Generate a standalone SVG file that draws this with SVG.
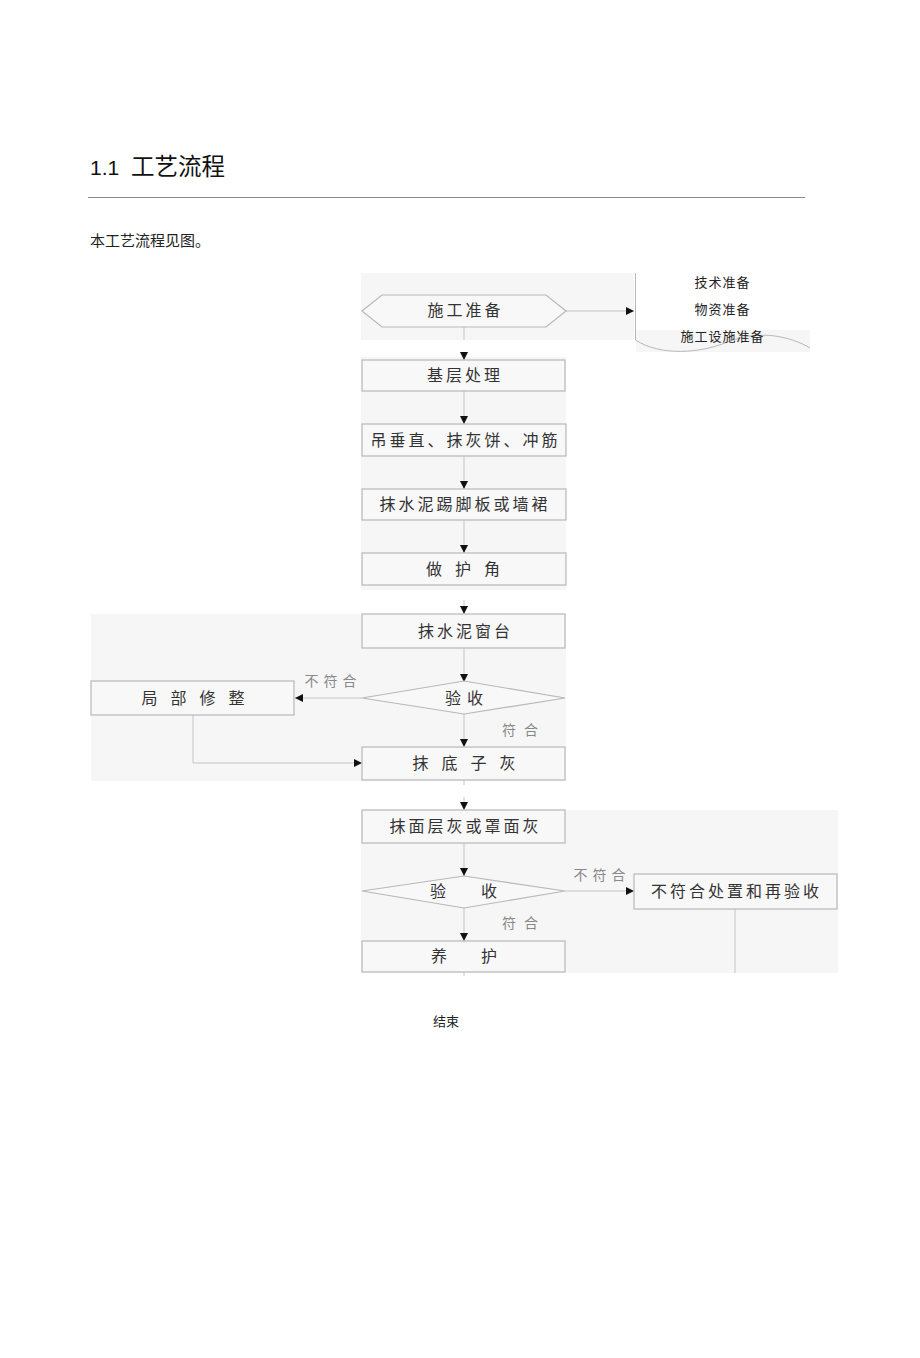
<svg xmlns="http://www.w3.org/2000/svg" width="920" height="1358" viewBox="0 0 920 1358">
<defs>
<marker id="ah" viewBox="0 0 10 10" refX="10" refY="5" markerWidth="8" markerHeight="8" markerUnits="userSpaceOnUse" orient="auto"><path d="M0,0 L10,5 L0,10 z" fill="#111"/></marker>
<style>
text{font-family:"Liberation Serif","Noto Sans CJK SC",serif;}
.bg{fill:#f6f6f6;stroke:none}
.box{fill:#f8f8f8;stroke:#b8b8b8;stroke-width:1.2}
.t{font-size:16px;fill:#333;text-anchor:middle;letter-spacing:3px}
.lbl{font-size:14px;fill:#888;text-anchor:middle;letter-spacing:5px}
.c{fill:none;stroke:#c4c4c4;stroke-width:1}
.ca{fill:none;stroke:#c4c4c4;stroke-width:1;marker-end:url(#ah)}
.side{font-size:13px;fill:#222;text-anchor:middle;letter-spacing:1px}
</style>
</defs>
<rect width="920" height="1358" fill="#ffffff"/>
<text x="90" y="175" style="font-family:'Liberation Sans','Noto Sans CJK SC',sans-serif;font-size:21px;fill:#111">1.1</text>
<text x="131" y="175" style="font-family:'Liberation Sans','Noto Sans CJK SC',sans-serif;font-size:23.5px;fill:#111">工艺流程</text>
<line x1="88" y1="197.5" x2="805" y2="197.5" stroke="#888" stroke-width="1"/>
<text x="90" y="246" style="font-family:'Liberation Sans','Noto Sans CJK SC',sans-serif;font-size:15px;fill:#222">本工艺流程见图。</text>
<g id="panels">
<rect class="bg" x="361" y="273" width="273" height="67"/>
<rect class="bg" x="361" y="357" width="205" height="233"/>
<rect class="bg" x="91" y="614" width="475" height="167"/>
<rect class="bg" x="361" y="810" width="477" height="163"/>
<rect class="bg" x="636" y="330" width="174" height="22"/>
</g>
<g id="connectors">
<line class="c" x1="464" y1="327" x2="464" y2="340"/>
<line class="ca" x1="464" y1="352" x2="464" y2="360"/>
<line class="ca" x1="566" y1="311" x2="634" y2="311"/>
<line class="ca" x1="464" y1="391" x2="464" y2="424"/>
<line class="ca" x1="464" y1="456" x2="464" y2="489"/>
<line class="ca" x1="464" y1="520" x2="464" y2="553"/>
<line class="ca" x1="464" y1="600" x2="464" y2="614"/>
<line class="ca" x1="464" y1="648" x2="464" y2="682"/>
<line class="ca" x1="362" y1="698" x2="295" y2="698"/>
<line class="ca" x1="464" y1="714" x2="464" y2="747"/>
<polyline class="ca" points="193,715 193,763 362,763"/>
<line class="c" x1="464" y1="780" x2="464" y2="785"/>
<line class="ca" x1="464" y1="797" x2="464" y2="810"/>
<line class="ca" x1="464" y1="843" x2="464" y2="876"/>
<line class="ca" x1="565" y1="891" x2="634" y2="891"/>
<line class="ca" x1="464" y1="908" x2="464" y2="941"/>
<line class="c" x1="735" y1="909" x2="735" y2="973"/>
<line class="c" x1="464" y1="972" x2="464" y2="976"/>
<text class="lbl" x="333" y="686">不符合</text>
<text class="lbl" x="524" y="735" style="letter-spacing:8px">符合</text>
<text class="lbl" x="602" y="880">不符合</text>
<text class="lbl" x="524" y="928" style="letter-spacing:8px">符合</text>
</g>
<g id="n-prep">
<polygon class="box" points="362,311 382,295 546,295 566,311 546,327 382,327"/>
<text class="t" x="465.5" y="316">施工准备</text>
</g>
<g id="n-doc">
<path d="M635.5,273 L635.5,340 C660,356 700,354 730,341 C760,330 790,336 810,348" fill="none" stroke="#b8b8b8" stroke-width="1"/>
<text class="side" x="722.5" y="287">技术准备</text>
<text class="side" x="722.5" y="314">物资准备</text>
<text class="side" x="722.5" y="341">施工设施准备</text>
</g>
<g id="n-base"><rect class="box" x="362" y="360" width="203" height="31"/><text class="t" x="465" y="381">基层处理</text></g>
<g id="n-plumb"><rect class="box" x="362" y="424" width="204" height="32"/><text class="t" x="465.5" y="446">吊垂直、抹灰饼、冲筋</text></g>
<g id="n-skirt"><rect class="box" x="362" y="489" width="204" height="31"/><text class="t" x="465" y="510">抹水泥踢脚板或墙裙</text></g>
<g id="n-corner"><rect class="box" x="362" y="553" width="204" height="32"/><text class="t" x="469.5" y="575" style="letter-spacing:13px">做护角</text></g>
<g id="n-sill"><rect class="box" x="362" y="614" width="203" height="34"/><text class="t" x="465.5" y="637">抹水泥窗台</text></g>
<g id="n-check1"><polygon class="box" points="362,698 464,681 565,698 464,714"/><text class="t" x="467" y="704" style="letter-spacing:6px">验收</text></g>
<g id="n-repair"><rect class="box" x="91" y="681" width="203" height="34"/><text class="t" x="199.5" y="704" style="letter-spacing:13px">局部修整</text></g>
<g id="n-base-coat"><rect class="box" x="362" y="747" width="203" height="33"/><text class="t" x="470.5" y="769" style="letter-spacing:13px">抹底子灰</text></g>
<g id="n-finish"><rect class="box" x="362" y="810" width="203" height="33"/><text class="t" x="465.5" y="832">抹面层灰或罩面灰</text></g>
<g id="n-check2"><polygon class="box" points="362,891 464,876 565,891 464,908"/><text class="t" x="481" y="897" style="letter-spacing:35px">验收</text></g>
<g id="n-rework"><rect class="box" x="634" y="874" width="203" height="35"/><text class="t" x="736.5" y="897">不符合处置和再验收</text></g>
<g id="n-cure"><rect class="box" x="362" y="941" width="203" height="31"/><text class="t" x="481" y="962" style="letter-spacing:34px">养护</text></g>
<g id="n-end"><text x="446" y="1026" style="font-size:13px;fill:#222;text-anchor:middle">结束</text></g>
</svg>
